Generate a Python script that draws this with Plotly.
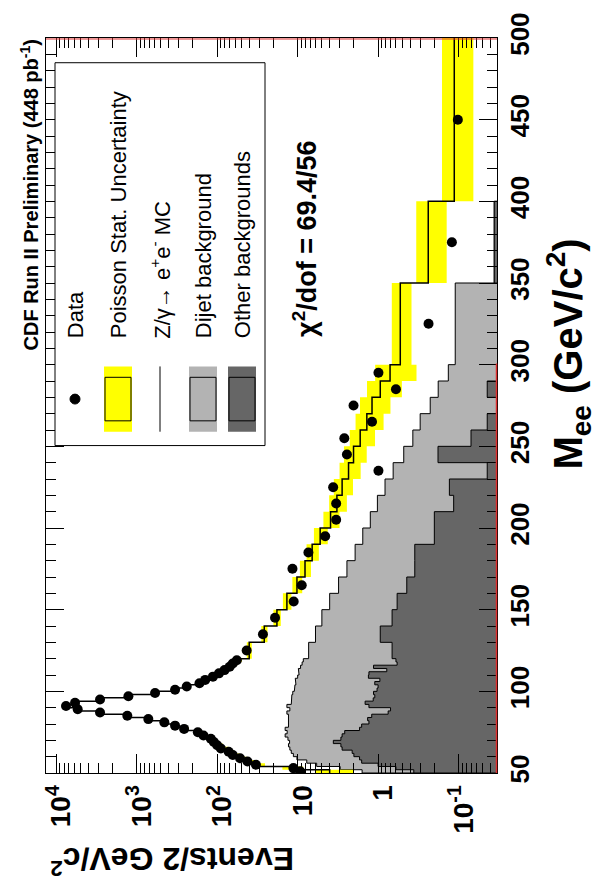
import numpy as np
import plotly.graph_objects as go

# ---------------------------------------------------------------------------
# Dielectron invariant mass spectrum, CDF Run II (448 pb^-1)
# Bins: 2 GeV up to 120, 10 GeV up to 300, then 300-350, 350-400, 400-500
# ---------------------------------------------------------------------------
mee_edges = np.array(list(range(50, 121, 2)) + list(range(130, 301, 10)) + [350, 400, 500], dtype=float)

# observed events per 2 GeV/c^2
data_events = [9.3, 11.3, 33, 42, 52, 64, 72, 90, 100, 110, 120, 148, 174, 258, 334,
               454, 718, 1310, 2860, 5420, 7570, 5850, 2860, 1270, 592, 334, 239, 166,
               141, 113, 95, 81, 70, 64, 57,
               43, 27, 19.1, 11.2, 8.9, 11.6, 7.35, 4.55, 3.32, 3.32, 3.62, 0.99, 2.44,
               2.63, 1.19, 2.02, 0.60, 0.99,
               0.236, 0.121, 0.102]

# total prediction (Z/gamma -> ee MC + backgrounds) per 2 GeV/c^2
mc_total = [4.0, 12, 31, 41, 50, 60, 70, 82, 95, 108, 124, 146, 180, 240, 320,
            450, 700, 1300, 2750, 5300, 7300, 5900, 2900, 1300, 600, 350, 232, 170,
            136, 112, 95, 82, 72, 64, 57,
            40, 26, 18.1, 13.6, 10.2, 8.1, 6.6, 5.25, 3.9, 3.25, 2.8, 2.33, 2.02,
            1.67, 1.38, 1.19, 0.94, 0.71,
            0.53, 0.238, 0.113]

# stacked backgrounds: dijet + other (light) and other alone (dark)
bkg_total = [1.58, 2.96, 5.8, 7.7, 10.2, 11.3, 12.0, 12.5, 13.0, 12.6, 13.2, 14.3, 13.5,
             14.3, 13.0, 13.0, 12.8, 13.0, 13.6, 12.5, 13.6, 12.0, 11.8, 11.8, 11.5,
             11.0, 10.8, 10.5, 10.7, 10.0, 9.6, 9.8, 9.2, 8.8, 8.5,
             7.3, 6.0, 5.0, 4.0, 3.1, 2.44, 1.93, 1.55, 1.25, 1.02, 0.82, 0.65, 0.48,
             0.37, 0.30, 0.225, 0.179, 0.134,
             0.11, 0.036, 0]
bkg_other = [0.36, 0.6, 1.0, 1.6, 1.7, 2.0, 2.1, 2.8, 2.9, 3.6, 2.9, 2.8, 2.6, 1.7, 1.6,
             1.3, 1.35, 1.2, 0.75, 0.7, 1.3, 1.45, 1.15, 1.1, 1.14, 1.03, 1.0, 1.1,
             0.95, 1.32, 1.3, 0.78, 1.14, 0.58, 0.6,
             0.67, 0.94, 0.67, 0.58, 0.44, 0.35, 0.35, 0.2, 0.2, 0.115, 0.13, 0.044,
             0.18, 0.07, 0.044, 0, 0.044, 0,
             0, 0.036, 0]

x_tickvals = [1e4, 1e3, 1e2, 10, 1, 0.1]
x_ticktext = ["10<sup>4</sup>", "10<sup>3</sup>", "10<sup>2</sup>", "10", "1", "10<sup>-1</sup>"]
y_tickvals = list(range(50, 501, 50))

legend_labels = ["Data", "Poisson Stat. Uncertainty", "Z/γ→ e<sup>+</sup>e<sup>-</sup> MC",
                 "Dijet background", "Other backgrounds"]

# ---------------------------------------------------------------------------
FONT = "Liberation Sans, Arial, sans-serif"
YELLOW = "#ffff00"
LIGHT = "#b3b3b3"
DARK = "#666666"
FLOOR = 1e-3          # below the visible range (right-hand side of reversed log axis)

lo, hi = mee_edges[:-1], mee_edges[1:]
width = hi - lo
centers = 0.5 * (lo + hi)


def step_outline(vals):
    xs, ys = [], []
    for v, a, b in zip(vals, lo, hi):
        v = v if v > 0 else FLOOR
        xs += [v, v]
        ys += [a, b]
    return xs, ys


def filled_hist(vals):
    xs, ys = step_outline(vals)
    return [FLOOR] + xs + [FLOOR], [lo[0]] + ys + [hi[-1]]


fig = go.Figure()

# stacked background histograms
for vals, col in [(bkg_total, LIGHT), (bkg_other, DARK)]:
    hx, hy = filled_hist(vals)
    fig.add_trace(go.Scatter(x=hx, y=hy, mode="lines", fill="toself", fillcolor=col,
                             line=dict(color="black", width=1), hoverinfo="skip"))

# Poisson uncertainty on the expected number of events in each bin
bx, by = [], []
for m, a, b, w in zip(mc_total, lo, hi, width):
    n_exp = m * w / 2.0
    err = np.sqrt(n_exp) / (w / 2.0)
    l, h = max(m - err, FLOOR), m + err
    bx += [l, h, h, l, l, None]
    by += [a, a, b, b, a, None]
fig.add_trace(go.Scatter(x=bx, y=by, mode="lines", fill="toself", fillcolor=YELLOW,
                         line=dict(width=0, color=YELLOW), hoverinfo="skip"))

# total prediction
sx, sy = step_outline(mc_total)
fig.add_trace(go.Scatter(x=sx, y=sy, mode="lines", line=dict(color="black", width=1.5),
                         hoverinfo="skip"))

# data
fig.add_trace(go.Scatter(x=data_events, y=centers, mode="markers",
                         marker=dict(color="black", size=10, symbol="circle")))

# ---------------------------------------------------------------------------
L, R, T, B = 46, 105, 30, 117
FW, FH = 602, 890
W, H = FW - L - R, FH - T - B


def px(x):
    return (x - L) / W


def py(y):
    return (T + H - y) / H


minor_x = [m * 10.0 ** e for e in range(-2, 5) for m in range(2, 10)]

fig.update_layout(
    width=FW, height=FH,
    margin=dict(l=L, r=R, t=T, b=B),
    paper_bgcolor="white", plot_bgcolor="white",
    showlegend=False,
    font=dict(family=FONT, color="black"),
    xaxis=dict(type="log", range=[4.128, -1.478], tickvals=x_tickvals, ticktext=x_ticktext,
               tickangle=-90, ticks="inside", ticklen=19, tickwidth=1, tickcolor="black",
               showline=True, linecolor="black", linewidth=1, mirror="ticks",
               showgrid=False, zeroline=False, ticklabelshift=-5,
               tickfont=dict(family=FONT, size=28, weight="bold", color="black"),
               minor=dict(tickvals=minor_x, ticks="inside", ticklen=10, tickcolor="black",
                          showgrid=False)),
    yaxis=dict(range=[50, 500], side="right", tickvals=y_tickvals, tickangle=-90,
               ticks="inside", ticklen=18, tickwidth=1, tickcolor="black",
               showline=True, linecolor="black", linewidth=1, mirror="ticks",
               showgrid=False, zeroline=False,
               tickfont=dict(family=FONT, size=26, weight="bold", color="black"),
               minor=dict(dtick=10, ticks="inside", ticklen=10, tickcolor="black",
                          showgrid=False)),
)

ann = []
ann.append(dict(text="<b>CDF Run II Preliminary (448 pb<sup>-1</sup>)</b>", textangle=-90,
                x=px(29), y=py(30), xanchor="center", yanchor="top",
                font=dict(size=20)))
ann.append(dict(text="<b>χ<sup>2</sup>/dof = 69.4/56</b>", textangle=-90,
                x=px(305), y=py(132), xanchor="center", yanchor="top",
                font=dict(size=27)))
ann.append(dict(text="<b>M<sub>ee</sub> (GeV/c<sup>2</sup>)</b>", textangle=-90,
                x=px(568), y=py(350), xanchor="center", yanchor="middle",
                font=dict(size=40)))
ann.append(dict(text="<b>Events/2 GeV/c<sup>2</sup></b>", textangle=180,
                x=px(172), y=py(862), xanchor="center", yanchor="middle",
                font=dict(size=32)))

# legend (drawn in the rotated frame)
leg_cols = [75, 118, 160, 203, 242]
for xc, lab in zip(leg_cols, legend_labels):
    ann.append(dict(text=lab, textangle=-90, x=px(xc), y=py(336),
                    xanchor="center", yanchor="bottom", font=dict(size=22)))
for a in ann:
    a.update(xref="paper", yref="paper", showarrow=False)
fig.update_layout(annotations=ann)

shapes = []
shapes.append(dict(type="rect", x0=px(55), x1=px(265), y0=py(442), y1=py(55),
                   line=dict(color="black", width=1), fillcolor="white"))
# data symbol
shapes.append(dict(type="circle", x0=px(70), x1=px(80), y0=py(400), y1=py(390),
                   fillcolor="black", line=dict(color="black", width=1)))
# boxes: Poisson (yellow), dijet (light), other (dark)
for xc, col in [(118, YELLOW), (203, LIGHT), (242, DARK)]:
    shapes.append(dict(type="rect", x0=px(xc - 14), x1=px(xc + 14), y0=py(428), y1=py(362),
                       fillcolor=col, line=dict(width=0)))
    shapes.append(dict(type="rect", x0=px(xc - 13), x1=px(xc + 13), y0=py(417), y1=py(373),
                       fillcolor="rgba(0,0,0,0)", line=dict(color="black", width=1)))
# Z/gamma MC line
shapes.append(dict(type="line", x0=px(160), x1=px(160), y0=py(428), y1=py(362),
                   line=dict(color="black", width=1)))
# red frame segments
shapes.append(dict(type="line", x0=0, x1=1, y0=py(31), y1=py(31),
                   line=dict(color="#e03030", width=1)))
shapes.append(dict(type="line", x0=px(496.5), x1=px(496.5), y0=py(773), y1=py(359),
                   line=dict(color="#e03030", width=1.5)))
for s in shapes:
    s.update(xref="paper", yref="paper", layer="above")
fig.update_layout(shapes=shapes)

fig.write_html("out.html")
